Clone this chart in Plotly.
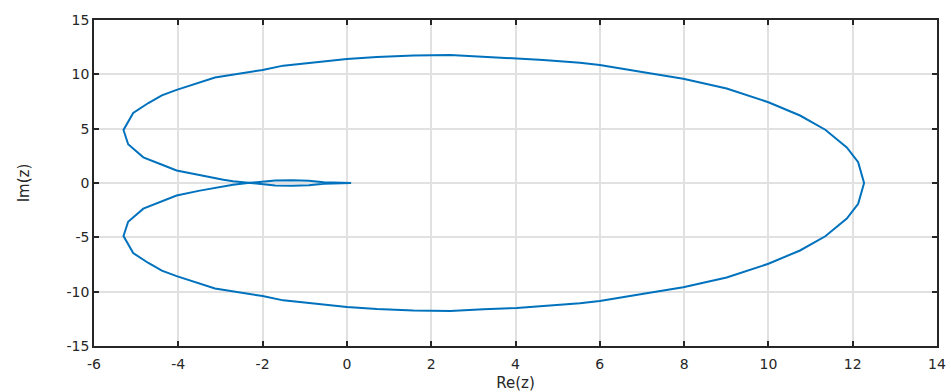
import plotly.graph_objects as go

# Nyquist-like curve: branch from origin through upper half to right end
re_upper = [0.10, -0.20, -0.55, -0.90, -1.30, -1.70, -2.00, -2.35, -2.70, -2.93, -3.49,
            -4.04, -4.43, -4.83, -5.19, -5.30, -5.07, -4.71, -4.39, -4.04, -3.13,
            -2.00, -1.51, 0.00, 0.71, 1.58, 2.45, 3.24, 4.03, 4.66, 5.53, 6.00,
            7.11, 7.98, 9.01, 10.00, 10.75, 11.35, 11.86, 12.13, 12.27]
im_upper = [0.00, -0.03, -0.07, -0.20, -0.26, -0.22, -0.12, 0.00, 0.17, 0.30, 0.70,
            1.15, 1.75, 2.36, 3.57, 4.88, 6.45, 7.36, 8.06, 8.57, 9.70,
            10.40, 10.80, 11.42, 11.60, 11.73, 11.78, 11.62, 11.50, 11.33, 11.06, 10.85,
            10.15, 9.60, 8.70, 7.43, 6.21, 4.90, 3.27, 1.91, 0.00]
# lower branch from right end back to origin
re_lower = [12.27, 12.13, 11.86, 11.35, 10.75, 10.00, 9.01, 7.98, 7.11, 6.00, 5.53,
            4.66, 4.03, 3.24, 2.45, 1.58, 0.71, 0.00, -1.51, -2.00, -3.13, -4.04,
            -4.39, -4.71, -5.07, -5.30, -5.19, -4.83, -4.43, -4.04, -3.49, -2.93,
            -2.70, -2.35, -2.00, -1.70, -1.30, -0.90, -0.55, -0.20, 0.10]
im_lower = [0.00, -1.91, -3.27, -4.90, -6.21, -7.43, -8.70, -9.60, -10.15, -10.85, -11.06,
            -11.33, -11.50, -11.62, -11.78, -11.73, -11.60, -11.42, -10.80, -10.40, -9.70, -8.57,
            -8.06, -7.36, -6.45, -4.88, -3.57, -2.36, -1.75, -1.15, -0.70, -0.30,
            -0.17, 0.00, 0.12, 0.22, 0.26, 0.20, 0.07, 0.03, 0.00]

x_ticks = [-6, -4, -2, 0, 2, 4, 6, 8, 10, 12, 14]
x_ticktext = ["-6", "-4", "-2", "0", "2", "4", "6", "8", "10", "12", "14"]
y_ticks = [-15, -10, -5, 0, 5, 10, 15]
y_ticktext = ["-15", "-10", "-5", "0", "5", "10", "15"]

FONT = "DejaVu Sans, Liberation Sans, Arial, sans-serif"

fig = go.Figure()
fig.add_trace(go.Scatter(x=re_upper + re_lower[1:], y=im_upper + im_lower[1:],
                         mode="lines", line=dict(color="#0072BD", width=2),
                         showlegend=False))

axis_common = dict(showline=True, linecolor="#262626", linewidth=1.5, mirror="ticks",
                   ticks="inside", ticklen=5, tickcolor="#262626", tickwidth=1.5,
                   showgrid=True, gridcolor="#e1e1e1", gridwidth=1.5, zeroline=False,
                   tickfont=dict(family=FONT, size=14, color="#262626"))

fig.update_layout(
    width=951, height=392,
    margin=dict(l=94, r=14, t=16, b=46),
    plot_bgcolor="white", paper_bgcolor="white",
    xaxis=dict(range=[-6, 14], tickvals=x_ticks, ticktext=x_ticktext,
               ticklabelstandoff=4, automargin=False,
               title=dict(text="Re(z)",
                          font=dict(family=FONT, size=15, color="#262626")),
               **axis_common),
    yaxis=dict(range=[-15, 15], tickvals=y_ticks, ticktext=y_ticktext,
               automargin=True,
               title=dict(text="Im(z)", standoff=33,
                          font=dict(family=FONT, size=15, color="#262626")),
               **axis_common),
)

fig.write_html("out.html")
